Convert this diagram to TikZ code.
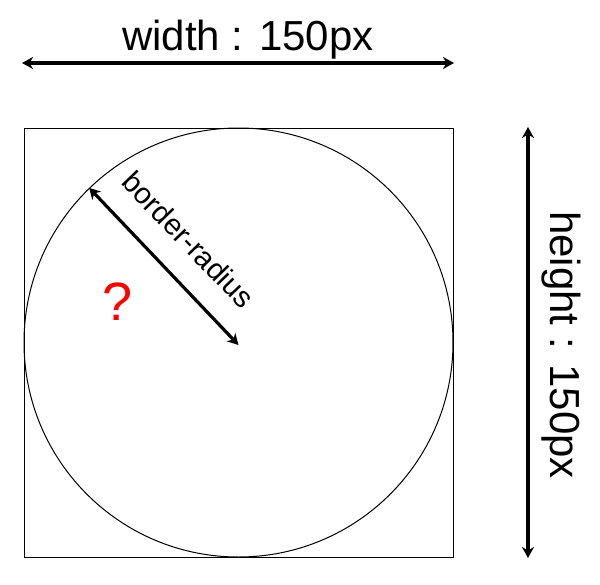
\documentclass[tikz,border=0pt]{standalone}
\usepackage{fontspec}
\setmainfont{Liberation Sans}
\usetikzlibrary{arrows.meta}
\tikzset{
  thinline/.style={draw=black, line width=1pt},
  dimarrow/.style={draw=black, line width=3.2pt, {Stealth[length=11pt,width=12pt]}-{Stealth[length=11pt,width=12pt]}},
  lbl/.style={inner sep=0pt, font=\fontsize{42}{48}\selectfont}
}
\begin{document}
\begin{tikzpicture}[x=1pt,y=-1pt]
\useasboundingbox (0,0) rectangle (600,584);
\fill[white] (0,0) rectangle (600,584);
% square and circle
\node[thinline, rectangle, minimum width=429pt, minimum height=429pt, inner sep=0pt] (sq) at (238.5,342.5) {};
\node[thinline, circle, minimum size=429pt, inner sep=0pt] (ci) at (238.5,342.5) {};
\coordinate (c) at (238.5,345);
% width arrow
\coordinate (wl) at (22,63);
\coordinate (wr) at (454,63);
\draw[dimarrow] (wl) -- (wr);
\node[lbl, anchor=base] (wt) at (248,50) {width : 150px};
% height arrow
\coordinate (hu) at (528,127);
\coordinate (hd) at (528,558);
\draw[dimarrow] (hu) -- (hd);
\node[lbl, anchor=base, rotate=-90] (ht) at (550,345) {height : 150px};
% border radius
\draw[dimarrow] (ci.134.5) -- (c);
\node[inner sep=0pt, font=\fontsize{29.5}{34}\selectfont, anchor=base, rotate=-46] (bt) at (181,247) {border-radius};
% question mark
\node[inner sep=0pt, font=\fontsize{54}{60}\selectfont, text=red, anchor=base] (q) at (118,320) {?};
\end{tikzpicture}
\end{document}
